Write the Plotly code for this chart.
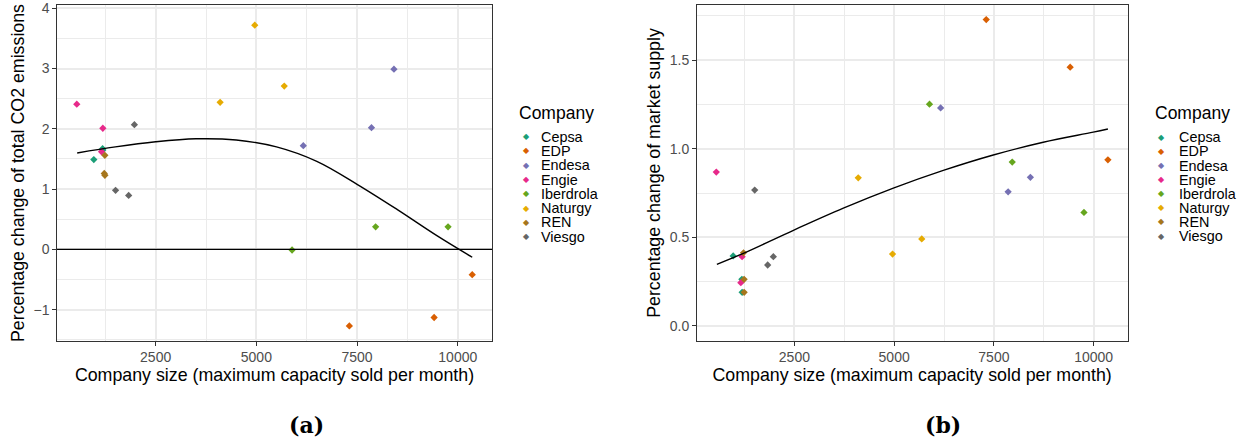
import plotly.graph_objects as go

# ---- data -------------------------------------------------------------
companies = ["Cepsa", "EDP", "Endesa", "Engie", "Iberdrola", "Naturgy", "REN", "Viesgo"]
palette = ["#1B9E77", "#D95F02", "#7570B3", "#E7298A", "#66A61E", "#E6AB02", "#A6761D", "#666666"]

# one row per observation: company, size, change in CO2, change in supply
obs_company = ["Cepsa", "Cepsa", "Cepsa",
               "EDP", "EDP", "EDP",
               "Endesa", "Endesa", "Endesa",
               "Engie", "Engie", "Engie",
               "Iberdrola", "Iberdrola", "Iberdrola",
               "Naturgy", "Naturgy", "Naturgy",
               "REN", "REN", "REN",
               "Viesgo", "Viesgo", "Viesgo"]
obs_size = [965, 1183, 1190,
            7308, 9412, 10358,
            6165, 7857, 8415,
            542, 1189, 1157,
            5886, 7960, 9758,
            4100, 4960, 5692,
            1224, 1239, 1240,
            1505, 1830, 1972]
co2_change = [1.49, 1.67, 1.65,
              -1.27, -1.13, -0.42,
              1.72, 2.02, 2.99,
              2.41, 2.01, 1.62,
              -0.01, 0.375, 0.375,
              2.44, 3.72, 2.71,
              1.26, 1.56, 1.23,
              0.98, 0.895, 2.07]
supply_change = [0.395, 0.263, 0.19,
                 1.73, 1.461, 0.938,
                 1.231, 0.757, 0.839,
                 0.869, 0.391, 0.244,
                 1.252, 0.925, 0.641,
                 0.836, 0.406, 0.491,
                 0.413, 0.263, 0.19,
                 0.767, 0.344, 0.391]

# smoothed trends (loess) sampled along company size
co2_fit_x = [552, 1500, 2500, 3500, 4500, 5500, 6500, 7500, 8500, 9500, 10358]
co2_fit_y = [1.60, 1.70, 1.785, 1.835, 1.815, 1.70, 1.46, 1.08, 0.66, 0.22, -0.13]
sup_fit_x = [556, 1222, 2475, 3727, 4980, 6232, 7485, 8737, 9990, 10358]
sup_fit_y = [0.348, 0.41, 0.54, 0.665, 0.778, 0.878, 0.965, 1.037, 1.094, 1.112]

x_ticks = [2500, 5000, 7500, 10000]
x_tick_labels = ["2500", "5000", "7500", "10000"]
co2_ticks = [-1, 0, 1, 2, 3, 4]
sup_ticks = [0.0, 0.5, 1.0, 1.5]

x_title = "Company size (maximum capacity sold per month)"
co2_title = "Percentage change of total CO2 emissions"
sup_title = "Percentage change of market supply"

# ---- figure -------------------------------------------------------------
W, H = 1245, 444
FONT = "Liberation Sans, Arial, Helvetica, sans-serif"

fig = go.Figure()

for comp, col in zip(companies, palette):
    idx = [i for i, c in enumerate(obs_company) if c == comp]
    xs = [obs_size[i] for i in idx]
    for ys, xa, ya in ((co2_change, "x", "y"), (supply_change, "x2", "y2")):
        fig.add_trace(go.Scatter(
            x=xs, y=[ys[i] for i in idx], mode="markers", name=comp,
            xaxis=xa, yaxis=ya, showlegend=False,
            marker=dict(symbol="diamond", size=5.6, color=col, line=dict(width=0)),
        ))

fig.add_trace(go.Scatter(x=co2_fit_x, y=co2_fit_y, mode="lines",
                         line=dict(color="black", width=1.4, shape="spline", smoothing=1.0),
                         xaxis="x", yaxis="y", showlegend=False))
fig.add_trace(go.Scatter(x=sup_fit_x, y=sup_fit_y, mode="lines",
                         line=dict(color="black", width=1.4, shape="spline", smoothing=1.0),
                         xaxis="x2", yaxis="y2", showlegend=False))

# horizontal reference at zero in panel (a)
fig.add_shape(type="line", xref="x domain", yref="y", x0=0, x1=1, y0=0, y1=0,
              line=dict(color="black", width=1.3))

grid = "#EBEBEB"
axis_common = dict(
    showline=True, mirror=True, linecolor="#333333", linewidth=1.3,
    ticks="outside", ticklen=3.5, tickwidth=1, tickcolor="#333333",
    showgrid=True, gridcolor=grid, gridwidth=1.6, zeroline=False,
    tickfont=dict(family=FONT, size=14, color="#4D4D4D"),
    automargin=False,
)
x_minor = dict(tickvals=[1250, 3750, 6250, 8750], showgrid=True,
               gridcolor=grid, gridwidth=0.8, ticks="")

xr = [51, 10849]
ydom = [(H - 341) / H, (H - 5) / H]

fig.update_layout(
    width=W, height=H, template="none",
    margin=dict(l=0, r=0, t=0, b=0),
    paper_bgcolor="white", plot_bgcolor="white",
    showlegend=False,
    xaxis=dict(axis_common, domain=[57 / W, 492 / W], range=xr,
               tickvals=x_ticks, ticktext=x_tick_labels, minor=x_minor,
               title=dict(text=x_title, font=dict(family=FONT, size=17.8, color="black"),
                          standoff=4)),
    yaxis=dict(axis_common, domain=ydom, range=[-1.52, 4.055], tickvals=co2_ticks,
               minor=dict(tickvals=[-1.5, -0.5, 0.5, 1.5, 2.5, 3.5], showgrid=True,
                          gridcolor=grid, gridwidth=0.8, ticks=""),
               title=dict(text=co2_title, font=dict(family=FONT, size=17.8, color="black"),
                          standoff=4)),
    xaxis2=dict(axis_common, domain=[696.7 / W, 1127.5 / W], range=xr,
                tickvals=x_ticks, ticktext=x_tick_labels, minor=x_minor,
                anchor="y2",
                title=dict(text=x_title, font=dict(family=FONT, size=17.8, color="black"),
                           standoff=4)),
    yaxis2=dict(axis_common, domain=ydom, range=[-0.085, 1.812], tickvals=sup_ticks,
                tickformat=".1f", anchor="x2",
                minor=dict(tickvals=[0.25, 0.75, 1.25, 1.75], showgrid=True,
                           gridcolor=grid, gridwidth=0.8, ticks=""),
                title=dict(text=sup_title, font=dict(family=FONT, size=17.8, color="black"),
                           standoff=4)),
)

# ---- legends (one per panel) --------------------------------------------
def add_legend(title_x, key_x, text_x, top_y, step):
    fig.add_annotation(x=title_x / W, y=1 - 113.3 / H, xref="paper", yref="paper",
                       text="Company", showarrow=False, xanchor="left", yanchor="middle",
                       font=dict(family=FONT, size=17.5, color="black"))
    for i, (comp, col) in enumerate(zip(companies, palette)):
        yy = 1 - (top_y + i * step) / H
        fig.add_annotation(x=key_x / W, y=yy, xref="paper", yref="paper", text="◆",
                           showarrow=False, xanchor="center", yanchor="middle",
                           font=dict(family="DejaVu Sans", size=8, color=col))
        fig.add_annotation(x=text_x / W, y=yy, xref="paper", yref="paper", text=comp,
                           showarrow=False, xanchor="left", yanchor="middle",
                           font=dict(family=FONT, size=14.4, color="black"))

add_legend(517, 526, 539, 136.7, 14.28)
add_legend(1153, 1161.7, 1176.5, 137.3, 14.1)

# ---- panel captions -----------------------------------------------------
for label, cx in (("(a)", 306.7), ("(b)", 943.3)):
    fig.add_annotation(x=cx / W, y=1 - 425 / H, xref="paper", yref="paper",
                       text=f"<b>{label}</b>", showarrow=False,
                       xanchor="center", yanchor="middle",
                       font=dict(family="DejaVu Serif", size=22, color="black"))

fig.write_html("out.html")
